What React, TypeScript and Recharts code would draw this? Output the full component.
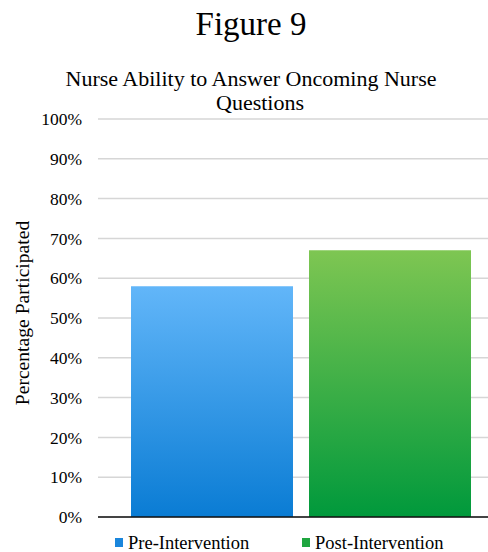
import { BarChart, Bar, XAxis, YAxis, CartesianGrid } from 'recharts';

const categories = [''];
const preValues = [58];
const postValues = [67];
const yTicks = [0, 10, 20, 30, 40, 50, 60, 70, 80, 90, 100];

const data = categories.map((name, i) => ({ name, pre: preValues[i], post: postValues[i] }));

const FONT = '"Liberation Serif", "Times New Roman", serif';

// rotated axis title, nudged a little above the plot's middle like the original
const YLabel = (props: any) => {
  const vb = props.viewBox ?? {};
  const cx = 22.5;
  const cy = vb.y + vb.height / 2 - 5;
  return (
    <text
      x={cx}
      y={cy}
      transform={`rotate(-90 ${cx} ${cy})`}
      textAnchor="middle"
      dominantBaseline="central"
      fontSize={19.6}
      fontFamily={FONT}
      fill="#000"
    >
      Percentage Participated
    </text>
  );
};

export default function App() {
  return (
    <div style={{ position: 'relative', width: 488, height: 552, overflow: 'hidden', background: '#fff', fontFamily: FONT, color: '#000' }}>
      <style>{'body{margin:0}'}</style>
      <div style={{ position: 'absolute', top: 7.5, left: 0, width: 502, textAlign: 'center', fontSize: 33, lineHeight: 1, whiteSpace: 'nowrap' }}>Figure 9</div>
      <div style={{ position: 'absolute', top: 66.5, left: 0, width: 502, textAlign: 'center', fontSize: 22, lineHeight: '24px', whiteSpace: 'nowrap' }}>
        Nurse Ability to Answer Oncoming Nurse
        <br />
        <span style={{ marginLeft: 18 }}>Questions</span>
      </div>
      <BarChart
        width={504}
        height={552}
        data={data}
        margin={{ top: 119, right: 0, bottom: 34, left: 18 }}
        barGap={16}
        barSize={162}
      >
        <defs>
          <linearGradient id="gPre" x1="0" y1="0" x2="0" y2="1">
            <stop offset="0%" stopColor="#62b6f9" />
            <stop offset="100%" stopColor="#0a7cd4" />
          </linearGradient>
          <linearGradient id="gPost" x1="0" y1="0" x2="0" y2="1">
            <stop offset="0%" stopColor="#7ec652" />
            <stop offset="100%" stopColor="#00993c" />
          </linearGradient>
        </defs>
        <CartesianGrid vertical={false} stroke="#d6d6d6" strokeWidth={1.5} />
        <XAxis dataKey="name" tick={false} tickLine={false} height={1} axisLine={{ stroke: '#111', strokeWidth: 1.5 }} />
        <YAxis
          type="number"
          domain={[0, 100]}
          ticks={yTicks}
          interval={0}
          width={80}
          axisLine={false}
          tickLine={false}
          tickSize={0}
          tickMargin={16}
          tickFormatter={(v: number) => `${v}%`}
          tick={{ fontSize: 17.5, fill: '#000', fontFamily: FONT }}
          label={<YLabel />}
        />
        <Bar dataKey="pre" fill="url(#gPre)" isAnimationActive={false} />
        <Bar dataKey="post" fill="url(#gPost)" isAnimationActive={false} />
      </BarChart>
      <div style={{ position: 'absolute', top: 534, left: 115, fontSize: 18.5, lineHeight: 1, whiteSpace: 'nowrap' }}>
        <span style={{ position: 'absolute', left: 0, top: 4, width: 8, height: 9, background: '#1a86dc' }} />
        <span style={{ marginLeft: 13 }}>Pre-Intervention</span>
      </div>
      <div style={{ position: 'absolute', top: 534, left: 302, fontSize: 18.5, lineHeight: 1, whiteSpace: 'nowrap' }}>
        <span style={{ position: 'absolute', left: 0, top: 4, width: 8, height: 9, background: '#1fa640' }} />
        <span style={{ marginLeft: 13 }}>Post-Intervention</span>
      </div>
    </div>
  );
}
